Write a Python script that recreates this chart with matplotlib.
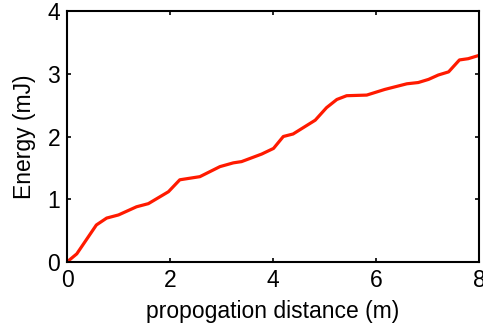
import matplotlib
matplotlib.use("Agg")
import matplotlib.pyplot as plt

distance_m = [0.0, 0.19, 0.57, 0.77, 1.0, 1.35, 1.58, 1.97, 2.19, 2.58, 2.97, 3.23, 3.39,
              3.78, 4.01, 4.20, 4.39, 4.82, 5.04, 5.24, 5.43, 5.82, 6.17, 6.60, 6.82,
              7.02, 7.21, 7.41, 7.62, 7.79, 7.99]
energy_mJ = [0.0, 0.13, 0.59, 0.70, 0.75, 0.88, 0.93, 1.12, 1.31, 1.36, 1.52, 1.58, 1.60,
             1.72, 1.81, 2.00, 2.04, 2.26, 2.46, 2.59, 2.65, 2.66, 2.75, 2.84, 2.86,
             2.91, 2.98, 3.03, 3.22, 3.24, 3.29]
x_ticks = [0, 2, 4, 6, 8]
y_ticks = [0, 1, 2, 3, 4]

plt.rcParams['font.family'] = ['Liberation Sans', 'DejaVu Sans']

fig = plt.figure(figsize=(4.83, 3.26), dpi=100)
ax = fig.add_axes([67/483, 1-262/326, (479-67)/483, (262-11)/326])
ax.plot(distance_m, energy_mJ, color='#ff1a00', lw=2.3, solid_joinstyle='round')
ax.set_xlim(0, 8)
ax.set_ylim(0, 4)
ax.set_xticks(x_ticks)
ax.set_yticks(y_ticks)
ax.tick_params(direction='in', top=True, right=True, labelsize=16.5, length=3, width=1.2)
ax.tick_params(axis='x', pad=5)
ax.tick_params(axis='y', pad=5)
for s in ax.spines.values():
    s.set_linewidth(1.5)
ax.set_xlabel('propogation distance (m)', fontsize=16.5, labelpad=6)
ax.set_ylabel('Energy (mJ)', fontsize=16.5, labelpad=8)
fig.savefig('out.png', dpi=100)
